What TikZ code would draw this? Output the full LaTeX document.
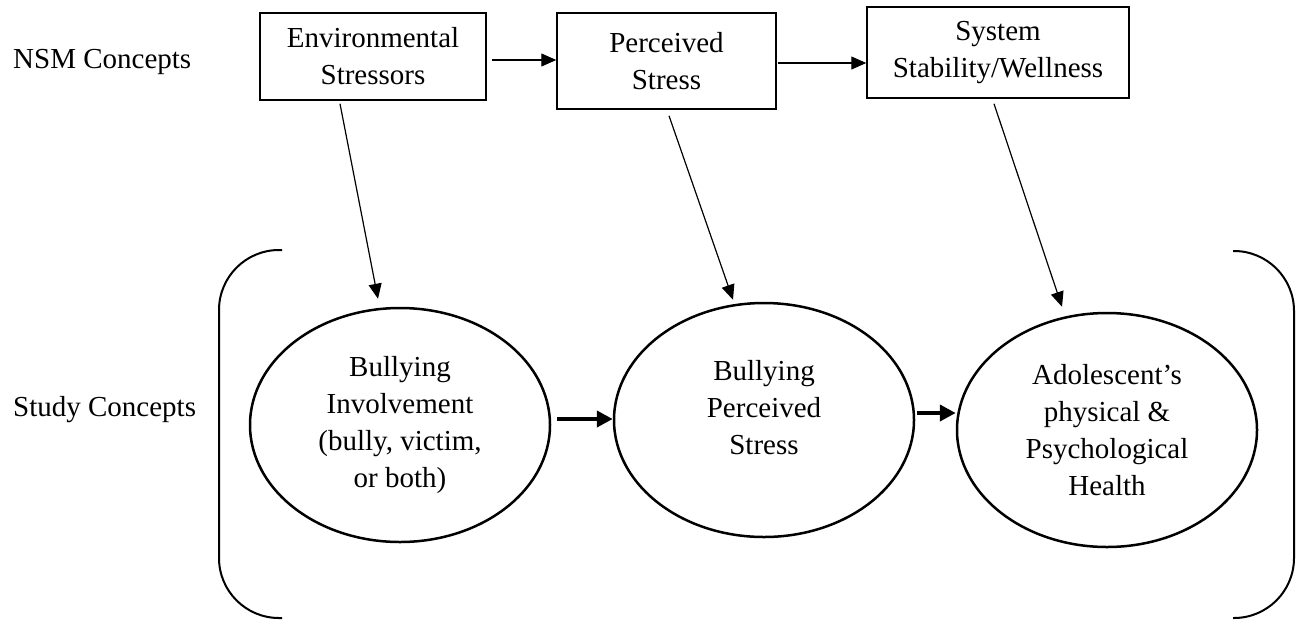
\documentclass[tikz,border=0pt]{standalone}
\usepackage{fontspec}
\setmainfont{Liberation Serif}
\usetikzlibrary{arrows.meta,shapes.geometric}
\begin{document}
\begin{tikzpicture}[x=1pt,y=-1pt,
  font=\fontsize{29}{37}\selectfont,
  nsmbox/.style={draw,line width=1.5pt,align=center,inner sep=0pt},
  studyell/.style={ellipse,draw,line width=2.5pt,minimum width=300pt,minimum height=234pt,inner sep=0pt,align=center},
  sidelabel/.style={anchor=west,inner sep=0pt},
  thinarrow/.style={line width=1.2pt,-{Triangle[length=15pt,width=13pt]}},
  thickarrow/.style={line width=4pt,-{Triangle[length=16pt,width=16pt]}},
  bracket/.style={line width=2pt,rounded corners=60pt}]
\useasboundingbox (0,0) rectangle (1296,630);
\node[sidelabel] (nsm) at (13,62) {NSM Concepts};
\node[sidelabel] (study) at (13,410) {Study Concepts};
\node[nsmbox,minimum width=226pt,minimum height=87pt] (env) at (373,56.5) {Environmental\\Stressors};
\node[nsmbox,minimum width=219pt,minimum height=96pt] (per) at (666.5,61) {Perceived\\Stress};
\node[nsmbox,minimum width=262pt,minimum height=91pt] (sys) at (998,52.5) {System\\Stability/Wellness};
\node[studyell] (bully) at (400,425) {Bullying\\Involvement\\(bully, victim,\\or both)};
\node[studyell,label={[align=center,yshift=12pt]center:Bullying\\Perceived\\Stress}] (percstress) at (764,420) {};
\node[studyell] (health) at (1107,430) {Adolescent’s\\physical \&\\Psychological\\Health};
\draw[thinarrow] ([shift={(5,3.5)}]env.east) coordinate (a1) -- (per.west |- a1);
\draw[thinarrow] ([shift={(1,2)}]per.east) coordinate (a2) -- (sys.west |- a2);
\draw[thinarrow] ([shift={(-33,3)}]env.south) -- ([shift={(-22,-8)}]bully.north);
\draw[thinarrow] ([shift={(2.5,6)}]per.south) -- ([shift={(-31,-2)}]percstress.north);
\draw[thinarrow] ([shift={(-4,5)}]sys.south) -- ([shift={(-45,-5)}]health.north);
\draw[thickarrow] ([shift={(6,-6)}]bully.east) coordinate (a3) -- (percstress.west |- a3);
\draw[thickarrow] ([shift={(2,-7)}]percstress.east) coordinate (a4) -- (health.west |- a4);
\draw[bracket] (282,250) -- (219,250) -- (219,618) -- (282,618);
\draw[bracket] (1233,251) -- (1294,251) -- (1294,618) -- (1233,618);
\end{tikzpicture}
\end{document}
